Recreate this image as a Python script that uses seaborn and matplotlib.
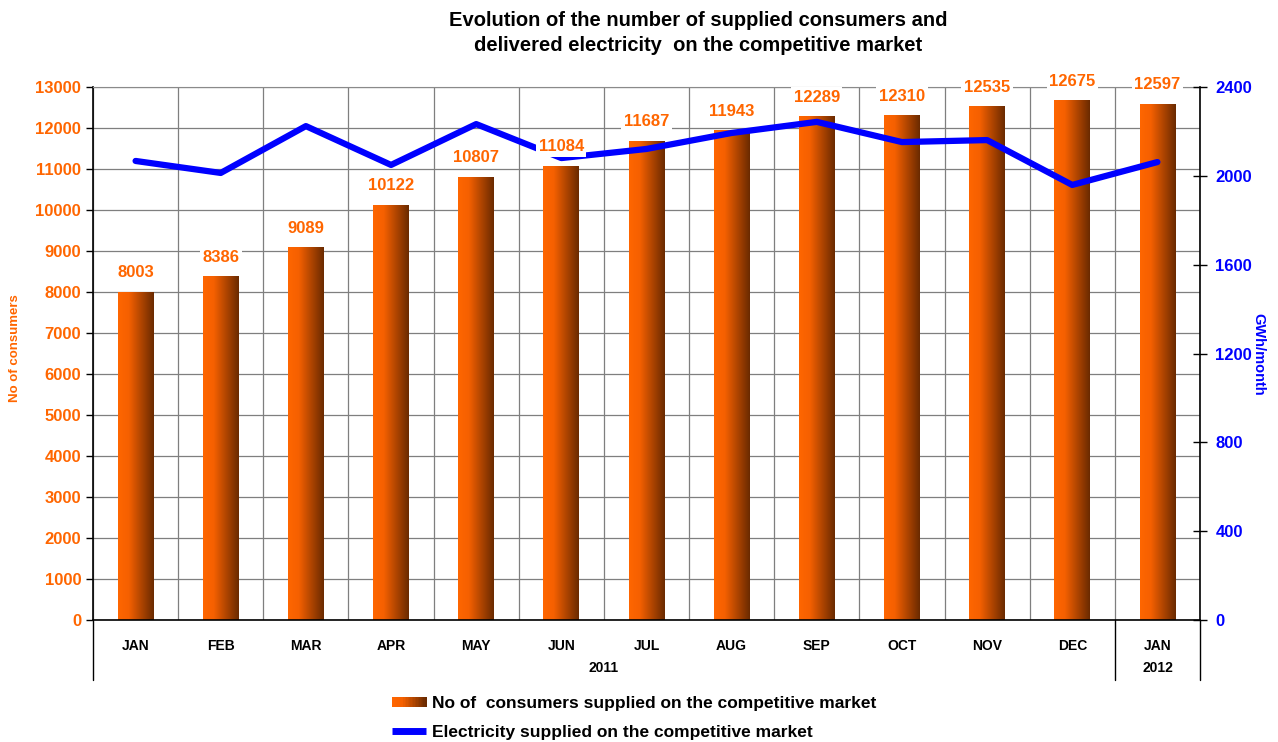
import numpy as np
import pandas as pd
import seaborn as sns
import matplotlib.pyplot as plt
from matplotlib.colors import LinearSegmentedColormap
from matplotlib.patches import Rectangle
from matplotlib.lines import Line2D
from matplotlib.legend_handler import HandlerBase

months = ['JAN', 'FEB', 'MAR', 'APR', 'MAY', 'JUN', 'JUL', 'AUG', 'SEP', 'OCT', 'NOV', 'DEC', 'JAN']
years = ['2011', '2012']
consumers = [8003, 8386, 9089, 10122, 10807, 11084, 11687, 11943, 12289, 12310, 12535, 12675, 12597]
electricity = [2067, 2013, 2224, 2049, 2233, 2080, 2121, 2193, 2243, 2152, 2161, 1959, 2062]

df = pd.DataFrame({'pos': range(len(months)), 'month': months,
                   'consumers': consumers, 'gwh': electricity})

ORANGE = '#FF6600'
BLUE = '#0000FF'
bar_cmap = LinearSegmentedColormap.from_list(
    'bar', [(0.0, '#FF6600'), (0.3, '#F56000'), (1.0, '#6A2A00')])

sns.set_style('white')
plt.rcParams['font.family'] = ['Liberation Sans', 'DejaVu Sans']
plt.rcParams['text.color'] = 'black'
plt.rcParams['xtick.color'] = 'black'

fig = plt.figure(figsize=(12.78, 7.42), dpi=100)
ax = fig.add_axes([93 / 1278, 1 - 620 / 742, (1200 - 93) / 1278, 533 / 742])

sns.barplot(x='pos', y='consumers', data=df, ax=ax, width=0.42, color=ORANGE, zorder=2)

# gradient fill inside each bar
grad = np.linspace(0, 1, 256).reshape(1, -1)
for p in ax.patches:
    x0, y0, w, h = p.get_x(), p.get_y(), p.get_width(), p.get_height()
    im = ax.imshow(grad, extent=[x0, x0 + w, y0, y0 + h], aspect='auto',
                   cmap=bar_cmap, zorder=2)
    im.set_clip_path(p)
    p.set_facecolor('none')
    p.set_edgecolor('none')

n = len(months)
ax.set_xlim(-0.5, n - 0.5)
ax.set_ylim(0, 13000)
ax.set_yticks(range(0, 13001, 1000))
ax.set_xticks(range(n))
ax.set_xticklabels(months, fontsize=10, fontweight='bold', color='black')
ax.set_xticks(np.arange(-0.5, n, 1), minor=True)
ax.tick_params(axis='x', which='major', length=0, pad=14)
ax.tick_params(axis='x', which='minor', length=22, width=1, color='black', direction='out')
ax.tick_params(axis='y', length=5, width=1, color='black', direction='out',
               labelcolor=ORANGE, labelsize=12)
for lab in ax.get_yticklabels():
    lab.set_fontweight('bold')
ax.grid(axis='y', color='#7f7f7f', lw=0.9, zorder=0)
ax.grid(axis='x', which='minor', color='#7f7f7f', lw=0.9, zorder=0)
ax.set_axisbelow(True)
ax.set_xlabel('')
ax.set_ylabel('')
for s in ['left', 'bottom']:
    ax.spines[s].set_color('black')
    ax.spines[s].set_linewidth(1.2)
ax.spines['top'].set_color('#8a8a8a')
ax.spines['right'].set_visible(False)

# second-level category separators and year labels
xt = ax.get_xaxis_transform()
for xb in [-0.5, 11.5, 12.5]:
    ax.plot([xb, xb], [0, -60 / 533], transform=xt, color='black', lw=1, clip_on=False)
ax.text(5.5, -48 / 533, years[0], transform=xt, ha='center', va='center',
        fontsize=10, fontweight='bold')
ax.text(12, -48 / 533, years[1], transform=xt, ha='center', va='center',
        fontsize=10, fontweight='bold')

ax2 = ax.twinx()
sns.lineplot(x='pos', y='gwh', data=df, ax=ax2, color=BLUE, lw=4.5)
ax2.set_ylim(0, 2400)
ax2.set_yticks(range(0, 2401, 400))
ax2.set_xlim(-0.5, n - 0.5)
ax2.set_ylabel('')
ax2.set_xlabel('')
ax2.tick_params(axis='y', length=10, width=1, color='black', direction='inout',
                labelcolor=BLUE, labelsize=12, pad=6)
for lab in ax2.get_yticklabels():
    lab.set_fontweight('bold')
ax2.grid(False)
ax2.spines['right'].set_visible(True)
ax2.spines['right'].set_color('black')
ax2.spines['right'].set_linewidth(1.2)
for s in ['left', 'top', 'bottom']:
    ax2.spines[s].set_visible(False)

# value labels above bars, drawn above the line
for i, v in enumerate(consumers):
    ax2.annotate(str(v), xy=(i, v), xycoords=ax.transData, xytext=(0, 19),
                 textcoords='offset pixels', ha='center', va='center',
                 fontsize=12, fontweight='bold', color=ORANGE,
                 bbox=dict(boxstyle='square,pad=0.15', fc='white', ec='none'),
                 annotation_clip=False)

fig.text(0.546, 1 - 33 / 742,
         'Evolution of the number of supplied consumers and\n'
         'delivered electricity  on the competitive market',
         ha='center', va='center', fontsize=14.5, fontweight='bold', linespacing=1.35)
fig.text(15 / 1278, 1 - 348 / 742, 'No of consumers', rotation=90, ha='center',
         va='center', color=ORANGE, fontsize=9.5, fontweight='bold')
fig.text(1258 / 1278, 1 - 354 / 742, 'GWh/month', rotation=270, ha='center',
         va='center', color=BLUE, fontsize=10.5, fontweight='bold')


class GradientHandler(HandlerBase):
    def create_artists(self, legend, orig_handle, xdescent, ydescent,
                       width, height, fontsize, trans):
        k = 24
        h = height * 0.75
        return [Rectangle((-xdescent + j * width / k, -ydescent + (height - h) / 2),
                          width / k + 0.3, h,
                          facecolor=bar_cmap(j / (k - 1)), edgecolor='none', transform=trans)
                for j in range(k)]


bar_handle = Rectangle((0, 0), 1, 1)
line_handle = Line2D([0], [0], color=BLUE, lw=5, solid_capstyle='butt')
fig.legend([bar_handle, line_handle],
           ['No of  consumers supplied on the competitive market',
            'Electricity supplied on the competitive market'],
           handler_map={bar_handle: GradientHandler()},
           loc='center left', bbox_to_anchor=(376 / 1278, 1 - 718 / 742),
           frameon=False, prop={'weight': 'bold', 'size': 12.5},
           handlelength=2.0, handletextpad=0.3, labelspacing=0.8)

fig.savefig('out.png', dpi=100)
